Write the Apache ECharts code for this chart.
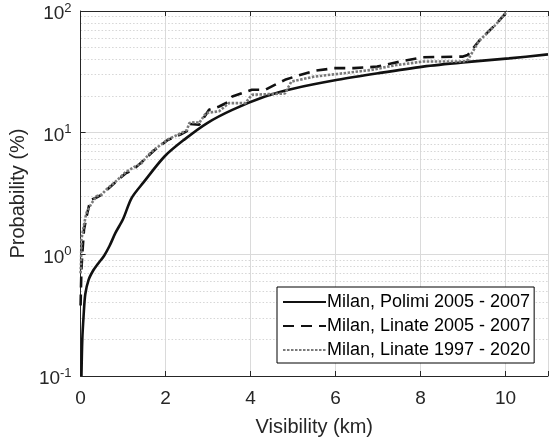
<!DOCTYPE html>
<html>
<head>
<meta charset="utf-8">
<script src="https://cdn.jsdelivr.net/npm/echarts@6/dist/echarts.min.js"></script>
<style>
  html, body { margin: 0; padding: 0; background: #fff; }
  #chart { width: 551px; height: 442px; }
</style>
</head>
<body>
<div id="chart"></div>
<script>
// visibility (km) vs cumulative probability (%)
const seriesNames = ['Milan, Polimi 2005 - 2007', 'Milan, Linate 2005 - 2007', 'Milan, Linate 1997 - 2020'];

const polimiKm   = [0.02, 0.04, 0.07, 0.11, 0.19, 0.3, 0.4, 0.55, 0.68, 0.82, 1.0, 1.2, 1.48, 1.98, 2.44, 2.98, 3.57, 4.34, 5.0, 6.05, 7.0, 8.06, 9.0, 10.08, 11];
const polimiProb = [0.1, 0.2, 0.31, 0.47, 0.62, 0.74, 0.83, 0.97, 1.17, 1.5, 1.95, 2.9, 3.9, 6.4, 8.77, 12, 15.4, 19.8, 23, 27.2, 30.8, 34.9, 37.8, 40.8, 44];

const linate05Km   = [0, 0.01, 0.02, 0.04, 0.08, 0.16, 0.23, 0.35, 0.5, 0.74, 1.05, 1.25, 1.43, 1.74, 2.05, 2.36, 2.5, 2.56, 2.79, 2.95, 3.02, 3.26, 3.49, 3.57, 3.8, 4.03, 4.34, 4.57, 4.81, 5.04, 5.5, 5.97, 6.43, 6.98, 7.52, 8.06, 9.0, 9.11, 9.38, 9.77, 10.04];
const linate05Prob = [0.38, 0.55, 0.75, 1.0, 1.6, 2.2, 2.8, 2.9, 3.1, 3.7, 4.6, 5.0, 5.7, 7.2, 8.7, 9.7, 10.3, 11.8, 11.6, 14.1, 15.4, 16.4, 18, 19.8, 21.1, 22.5, 22.5, 24.7, 27.2, 28.9, 32.2, 33.9, 33.9, 34.9, 38.4, 41.7, 42.2, 43.5, 57, 77.6, 99];

const linate97Km   = [0, 0.01, 0.02, 0.06, 0.1, 0.14, 0.25, 0.37, 0.5, 0.6, 0.84, 1.05, 1.25, 1.43, 1.6, 1.74, 1.9, 2.05, 2.2, 2.36, 2.5, 2.56, 2.7, 2.79, 2.95, 3.26, 3.49, 3.88, 4.03, 4.81, 4.96, 5.5, 6.05, 6.82, 7.44, 8.06, 9.0, 9.11, 9.38, 9.77, 10.04];
const linate97Prob = [0.7, 0.85, 1.33, 1.6, 1.9, 2.2, 2.6, 3.0, 3.1, 3.4, 4.0, 4.7, 5.2, 5.6, 6.6, 7.3, 8.0, 8.8, 9.3, 9.9, 10.5, 12, 12.2, 12, 14.5, 15, 17.5, 17.5, 20.5, 21, 26.3, 28.9, 30.4, 32.7, 36, 38.4, 38.4, 39.5, 57, 77, 100];

const xTicks = [0, 2, 4, 6, 8, 10];
const minorGrid = [0.2, 0.3, 0.4, 0.5, 0.6, 0.7, 0.8, 0.9, 2, 3, 4, 5, 6, 7, 8, 9, 20, 30, 40, 50, 60, 70, 80, 90];

const FONT = '"Liberation Sans", Arial, Helvetica, sans-serif';
const AXIS = '#262626';

function pairs(xs, ys) {
  return xs.map((x, i) => [x, ys[i]]);
}

const chart = echarts.init(document.getElementById('chart'), null, { renderer: 'canvas' });

chart.setOption({
  animation: false,
  backgroundColor: '#fff',
  textStyle: { fontFamily: FONT },
  grid: { left: 80, right: 0, top: 11, bottom: 65 },
  xAxis: [{
    type: 'value',
    min: 0, max: 11, interval: 2,
    name: 'Visibility (km)',
    nameLocation: 'middle',
    nameGap: 41,
    nameTextStyle: { fontSize: 20, color: AXIS, fontFamily: FONT },
    axisLine: { lineStyle: { color: AXIS, width: 1 } },
    axisTick: { inside: true, length: 5, lineStyle: { color: AXIS } },
    axisLabel: { fontSize: 19, color: AXIS, margin: 13, fontFamily: FONT,
      formatter: v => xTicks.includes(v) ? String(v) : '' },
    splitLine: { show: true, lineStyle: { color: '#dadada', width: 1 } }
  }, {
    type: 'value',
    position: 'top',
    min: 0, max: 11, interval: 2,
    axisLine: { show: true, lineStyle: { color: AXIS, width: 1 } },
    axisTick: { show: true, inside: true, length: 5, lineStyle: { color: AXIS } },
    axisLabel: { show: false },
    splitLine: { show: false }
  }],
  yAxis: {
    type: 'log',
    logBase: 10,
    min: 0.1, max: 100,
    name: 'Probability (%)',
    nameLocation: 'middle',
    nameGap: 50,
    nameTextStyle: { fontSize: 20, color: AXIS, fontFamily: FONT },
    axisLine: { show: true, lineStyle: { color: AXIS, width: 1 } },
    axisTick: { show: true, inside: true, length: 5, lineStyle: { color: AXIS } },
    axisLabel: {
      color: AXIS, margin: 9,
      formatter: v => '{b|10}{s|' + Math.round(Math.log10(v)) + '}',
      rich: {
        b: { fontSize: 19, color: AXIS, fontFamily: FONT, padding: [6, 0, 0, 0] },
        s: { fontSize: 13, color: AXIS, fontFamily: FONT, padding: [0, 0, 6, 0] }
      }
    },
    splitLine: { show: true, lineStyle: { color: '#dadada', width: 1 } }
  },
  legend: {
    orient: 'vertical',
    left: 277, top: 287,
    padding: [5, 4, 3, 5],
    itemGap: 4,
    itemWidth: 43,
    itemHeight: 14,
    backgroundColor: '#fff',
    borderColor: '#000',
    borderWidth: 1,
    borderRadius: 0,
    itemStyle: { color: 'rgba(0,0,0,0)', borderColor: 'rgba(0,0,0,0)', borderWidth: 0, opacity: 0 },
    textStyle: { fontSize: 18, lineHeight: 20, color: '#000', fontFamily: FONT, padding: [0, 0, 0, -4] },
    data: seriesNames
  },
  series: [{
    name: seriesNames[0],
    type: 'line',
    data: pairs(polimiKm, polimiProb),
    showSymbol: false, symbol: 'none',
    smooth: 0.3,
    lineStyle: { color: '#111', width: 2.6, type: 'solid' },
    itemStyle: { color: '#111' },
    markLine: {
      silent: true,
      symbol: 'none',
      label: { show: false },
      lineStyle: { color: '#d6d6d6', width: 1, type: [1.5, 2] },
      data: minorGrid.map(v => ({ yAxis: v })),
      z: 0
    },
    z: 3
  }, {
    name: seriesNames[1],
    type: 'line',
    data: pairs(linate05Km, linate05Prob),
    showSymbol: false, symbol: 'none',
    lineStyle: { color: '#111', width: 2.6, type: [11, 7] },
    itemStyle: { color: '#111' },
    z: 4
  }, {
    name: seriesNames[2],
    type: 'line',
    data: pairs(linate97Km, linate97Prob),
    showSymbol: false, symbol: 'none',
    lineStyle: { color: '#7a7a7a', width: 2.6, type: [2.5, 1.5] },
    itemStyle: { color: '#7a7a7a' },
    z: 5
  }]
});
</script>
</body>
</html>
